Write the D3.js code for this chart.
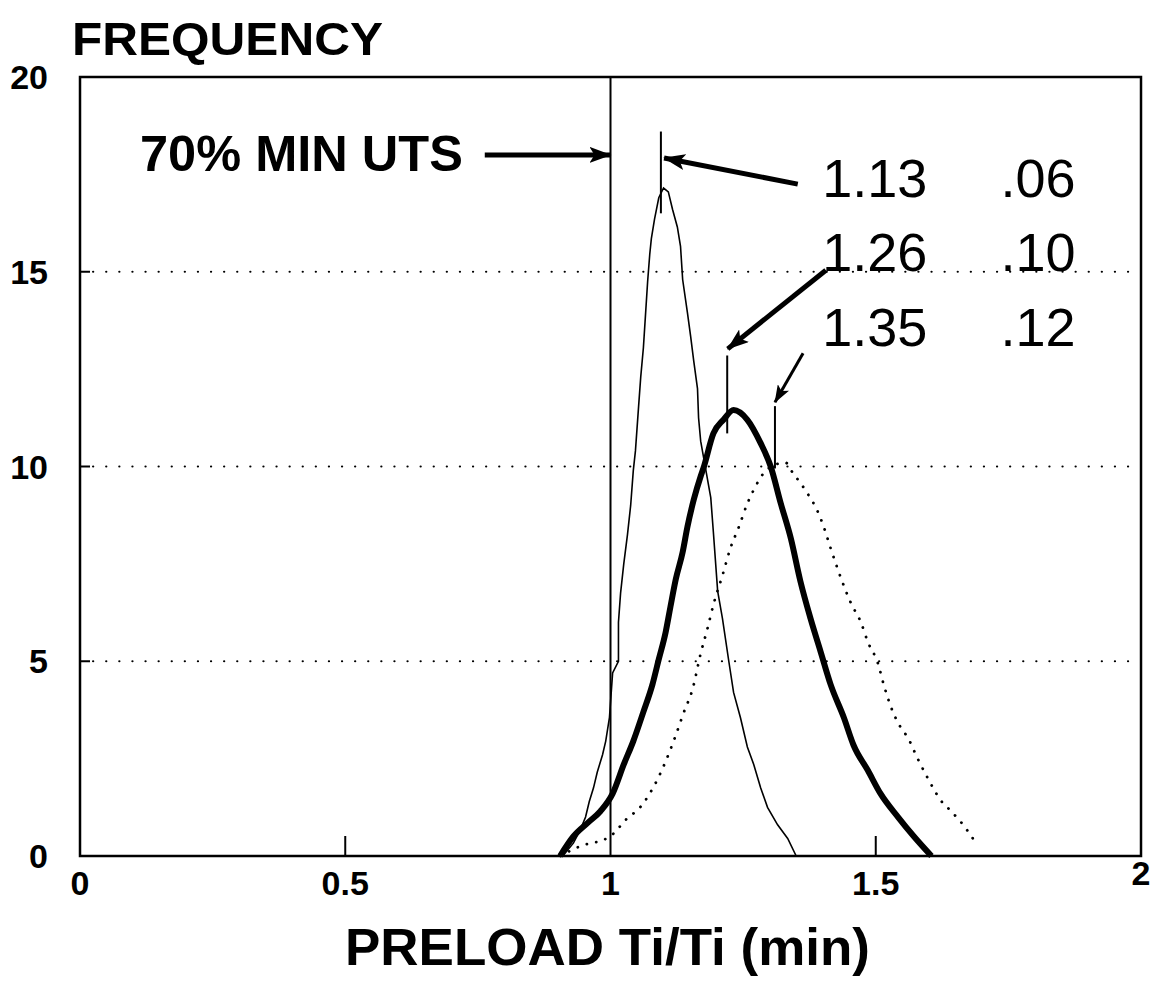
<!DOCTYPE html>
<html><head><meta charset="utf-8">
<script src="https://cdn.jsdelivr.net/npm/d3@7"></script>
<style>body{margin:0;background:#fff}svg{display:block}</style>
</head><body>
<svg id="chart" width="1161" height="988"></svg>
<script>
// ---- data ----
const xTicks = [0, 0.5, 1, 1.5, 2];
const xTickLabels = ["0", "0.5", "1", "1.5", "2"];
const yTicks = [0, 5, 10, 15, 20];
const yTickLabels = ["0", "5", "10", "15", "20"];

// thin solid curve: mean 1.13, sd .06
const thinX = [0.91,0.93,0.943,0.953,0.96,0.968,0.975,0.985,0.991,0.998,1.004,1.015,1.015,1.019,1.025,1.032,1.038,1.043,1.047,1.053,1.057,1.062,1.066,1.07,1.074,1.077,1.083,1.091,1.1,1.109,1.117,1.126,1.132,1.136,1.145,1.151,1.157,1.164,1.166,1.17,1.189,1.194,1.202,1.211,1.223,1.232,1.245,1.258,1.27,1.283,1.296,1.315,1.334,1.35];
const thinY = [0,0.33,0.67,1.0,1.4,1.75,2.15,2.6,2.95,3.55,4.7,5.0,6.0,6.75,7.5,8.25,9.0,9.9,10.4,11.55,12.3,13.05,13.9,14.75,15.45,15.85,16.35,16.9,17.15,17.05,16.6,16.15,15.65,14.8,13.95,13.35,12.7,12.0,11.25,10.65,9.2,8.3,6.8,6.1,5.0,4.2,3.55,2.8,2.35,1.75,1.25,0.8,0.45,0];

// thick solid curve: mean 1.26, sd .10
const thickX = [0.905,0.93,0.957,0.981,1.004,1.025,1.043,1.062,1.079,1.091,1.104,1.113,1.123,1.136,1.145,1.157,1.17,1.175,1.194,1.213,1.232,1.258,1.283,1.302,1.321,1.34,1.358,1.377,1.396,1.415,1.44,1.458,1.485,1.509,1.542,1.572,1.605];
const thickY = [0,0.5,0.85,1.15,1.6,2.35,2.95,3.7,4.4,5.05,5.75,6.4,7.1,7.8,8.45,9.15,9.75,9.95,10.85,11.2,11.45,11.2,10.6,10.0,9.05,8.15,7.05,6.1,5.25,4.4,3.55,2.85,2.2,1.6,1.0,0.5,0];

// dotted curve: mean 1.35, sd .12
const dotX = [0.906,0.943,0.962,0.985,1.006,1.028,1.057,1.081,1.104,1.123,1.138,1.155,1.17,1.183,1.194,1.211,1.226,1.242,1.258,1.27,1.287,1.311,1.33,1.343,1.362,1.374,1.387,1.402,1.415,1.434,1.453,1.472,1.485,1.504,1.515,1.528,1.547,1.56,1.579,1.598,1.623,1.642,1.66,1.674,1.689];
const dotY = [0,0.25,0.33,0.4,0.58,0.92,1.27,1.77,2.43,3.1,3.68,4.3,5.2,5.85,6.45,7.2,7.9,8.45,9.05,9.4,9.8,10.05,10.1,9.85,9.5,9.25,8.95,8.45,7.9,7.15,6.5,6.0,5.5,4.95,4.4,3.85,3.3,3.05,2.5,2.0,1.42,1.15,0.88,0.63,0.33];

// peak marker lines
const markerX = [1.095, 1.22, 1.31];
const markerTop = [18.6, 12.85, 11.55];
const markerBottom = [16.5, 10.85, 9.95];

// annotation values
const meanLabels = ["1.13", "1.26", "1.35"];
const sdLabels = [".06", ".10", ".12"];
const labelRowY = [16.92, 15.02, 13.1];
const meanLabelX = 1.399;
const sdLabelX = 1.735;

// arrows (tail -> tip), data units
const arrowTail = [[0.763, 18.0], [1.353, 17.25], [1.406, 15.04], [1.363, 12.91]];
const arrowTip  = [[1.0, 18.0],   [1.101, 17.92], [1.221, 13.02], [1.31, 11.65]];
const arrowWidth = [5, 5, 5, 3];

const utsLabel = "70% MIN UTS";
const utsLabelPos = [0.113, 17.58];
const xRefLine = 1;

// ---- drawing ----
const svg = d3.select("#chart");
const x = d3.scaleLinear().domain([0, 2]).range([80, 1141]);
const y = d3.scaleLinear().domain([0, 20]).range([856, 77]);
const font = "'Liberation Sans', Arial, Helvetica, sans-serif";

svg.append("rect").attr("width", 1161).attr("height", 988).attr("fill", "#fff");

const defs = svg.append("defs");
defs.append("marker").attr("id", "ah").attr("viewBox", "0 0 22 16")
  .attr("markerUnits", "userSpaceOnUse").attr("markerWidth", 22).attr("markerHeight", 16)
  .attr("refX", 21).attr("refY", 8).attr("orient", "auto")
  .append("path").attr("d", "M0,0 L22,8 L0,16 L5,8 Z").attr("fill", "#000");
defs.append("marker").attr("id", "ahs").attr("viewBox", "0 0 22 16")
  .attr("markerUnits", "userSpaceOnUse").attr("markerWidth", 18).attr("markerHeight", 13)
  .attr("refX", 21).attr("refY", 8).attr("orient", "auto")
  .append("path").attr("d", "M0,0 L22,8 L0,16 L5,8 Z").attr("fill", "#000");

// gridlines (dotted)
const inner = yTicks.filter(d => d > 0 && d < 20);
svg.append("g").selectAll("line").data(inner).join("line")
  .attr("x1", x(0)).attr("x2", x(2)).attr("y1", d => y(d)).attr("y2", d => y(d))
  .attr("stroke", "#000").attr("stroke-width", 2.2).attr("stroke-linecap", "round")
  .attr("stroke-dasharray", "0.1,13");
// short solid y ticks
svg.append("g").selectAll("line").data(inner).join("line")
  .attr("x1", x(0)).attr("x2", x(0) + 10).attr("y1", d => y(d)).attr("y2", d => y(d))
  .attr("stroke", "#000").attr("stroke-width", 2);
// x ticks
svg.append("g").selectAll("line").data(xTicks.filter(d => d !== 0 && d !== 1 && d !== 2)).join("line")
  .attr("x1", d => x(d)).attr("x2", d => x(d)).attr("y1", y(0)).attr("y2", y(0) - 20)
  .attr("stroke", "#000").attr("stroke-width", 2);

// frame
svg.append("rect").attr("x", x(0)).attr("y", y(20)).attr("width", x(2) - x(0)).attr("height", y(0) - y(20))
  .attr("fill", "none").attr("stroke", "#000").attr("stroke-width", 2.5);

// reference line at x=1
svg.append("line").attr("x1", x(xRefLine)).attr("x2", x(xRefLine)).attr("y1", y(20)).attr("y2", y(0))
  .attr("stroke", "#000").attr("stroke-width", 2);

// tick labels
svg.append("g").selectAll("text").data(yTicks).join("text")
  .attr("x", 48).attr("y", d => y(d)).attr("dy", "0.36em").attr("text-anchor", "end")
  .attr("font-family", font).attr("font-weight", "bold").attr("font-size", 34)
  .text((d, i) => yTickLabels[i]);
svg.append("g").selectAll("text").data(xTicks).join("text")
  .attr("x", d => x(d)).attr("y", (d, i) => i === 4 ? 885 : 895).attr("text-anchor", "middle")
  .attr("font-family", font).attr("font-weight", "bold").attr("font-size", 34)
  .text((d, i) => xTickLabels[i]);

// axis titles
svg.append("text").attr("x", 72).attr("y", 55).attr("font-family", font).attr("font-weight", "bold")
  .attr("font-size", 47).attr("textLength", 311).attr("lengthAdjust", "spacingAndGlyphs").text("FREQUENCY");
svg.append("text").attr("x", 345).attr("y", 965).attr("font-family", font).attr("font-weight", "bold")
  .attr("font-size", 52).attr("textLength", 525).attr("lengthAdjust", "spacingAndGlyphs").text("PRELOAD Ti/Ti (min)");

// curves
const pts = (xs, ys) => xs.map((v, i) => [v, ys[i]]);
const lineLin = d3.line().x(d => x(d[0])).y(d => y(d[1]));
const lineSmooth = d3.line().x(d => x(d[0])).y(d => y(d[1])).curve(d3.curveMonotoneX);

svg.append("path").datum(pts(dotX, dotY)).attr("d", lineSmooth).attr("fill", "none")
  .attr("stroke", "#000").attr("stroke-width", 2.8).attr("stroke-linecap", "round").attr("stroke-dasharray", "0.1,9.5");
svg.append("path").datum(pts(thinX, thinY)).attr("d", lineLin).attr("fill", "none")
  .attr("stroke", "#000").attr("stroke-width", 1.6);
svg.append("path").datum(pts(thickX, thickY)).attr("d", lineSmooth).attr("fill", "none")
  .attr("stroke", "#000").attr("stroke-width", 6).attr("stroke-linejoin", "round");

// peak markers
svg.append("g").selectAll("line").data(markerX).join("line")
  .attr("x1", d => x(d)).attr("x2", d => x(d)).attr("y1", (d, i) => y(markerTop[i])).attr("y2", (d, i) => y(markerBottom[i]))
  .attr("stroke", "#000").attr("stroke-width", 2);

// arrows
svg.append("g").selectAll("line").data(arrowTail).join("line")
  .attr("x1", d => x(d[0])).attr("y1", d => y(d[1]))
  .attr("x2", (d, i) => x(arrowTip[i][0])).attr("y2", (d, i) => y(arrowTip[i][1]))
  .attr("stroke", "#000").attr("stroke-width", (d, i) => arrowWidth[i])
  .attr("marker-end", (d, i) => i === 3 ? "url(#ahs)" : "url(#ah)");

// annotation text
svg.append("text").attr("x", x(utsLabelPos[0])).attr("y", y(utsLabelPos[1]))
  .attr("font-family", font).attr("font-weight", "bold").attr("font-size", 50)
  .attr("textLength", 323).attr("lengthAdjust", "spacingAndGlyphs").text(utsLabel);
svg.append("g").selectAll("text").data(meanLabels).join("text")
  .attr("x", x(meanLabelX)).attr("y", (d, i) => y(labelRowY[i]))
  .attr("font-family", font).attr("font-size", 54).text(d => d);
svg.append("g").selectAll("text").data(sdLabels).join("text")
  .attr("x", x(sdLabelX)).attr("y", (d, i) => y(labelRowY[i]))
  .attr("font-family", font).attr("font-size", 54).text(d => d);
</script>
</body></html>
